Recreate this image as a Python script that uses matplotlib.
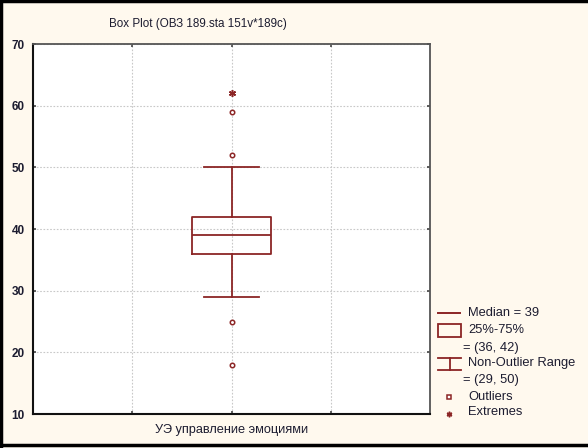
import matplotlib
matplotlib.use("Agg")
import matplotlib.pyplot as plt
from matplotlib.lines import Line2D
from matplotlib.patches import Rectangle

plt.rcParams['font.family'] = ['Liberation Sans', 'DejaVu Sans']

# data
category = "УЭ управление эмоциями"
median = 39
q1, q3 = 36, 42
whisk_lo, whisk_hi = 29, 50
outliers = [59, 52, 25, 18]
extremes = [62]
title = "Box Plot (ОВЗ 189.sta 151v*189c)"

W, H = 588, 448
red = "#8b2525"
txt = "#1c1c30"
bg = "#fff9ee"

fig = plt.figure(figsize=(W / 100, H / 100), dpi=100, facecolor=bg)
ax = fig.add_axes([33 / W, (H - 414) / H, 397 / W, 370 / H])
ax.set_facecolor("white")

stats = [dict(med=median, q1=q1, q3=q3, whislo=whisk_lo, whishi=whisk_hi,
              fliers=[], label=category)]
ax.bxp(stats, positions=[1], widths=0.40, capwidths=0.28, showfliers=False,
       boxprops=dict(color=red, lw=1.3), medianprops=dict(color=red, lw=1.3),
       whiskerprops=dict(color=red, lw=1.3), capprops=dict(color=red, lw=1.3),
       zorder=3)
ax.plot([1] * len(outliers), outliers, ls="none", marker="o", ms=3.2,
        mfc="white", mec=red, mew=1.1, zorder=4)
ax.plot([1] * len(extremes), extremes, ls="none", marker=(6, 2, 0), ms=5,
        mec=red, mew=1.1, zorder=4)

ax.set_xlim(0, 2)
ax.set_ylim(10, 70)
ax.set_yticks(range(10, 71, 10))
ax.set_xticks([0.5, 1, 1.5])
ax.set_xticklabels(["", category, ""])
ax.grid(True, ls=(0, (1.5, 1.5)), color="#c8c8c8", lw=0.8, zorder=0)
ax.tick_params(axis="both", direction="in", length=2, width=1.2, colors="#444444",
               labelcolor=txt, top=True, right=True)
ax.tick_params(axis="y", labelsize=8.5, pad=6)
ax.tick_params(axis="x", labelsize=9.2, pad=7)
for lbl in ax.get_yticklabels():
    lbl.set_fontweight("bold")
for side in ["left", "bottom"]:
    ax.spines[side].set_color("#111111")
    ax.spines[side].set_linewidth(1.5)
for side in ["top", "right"]:
    ax.spines[side].set_color("#555555")
    ax.spines[side].set_linewidth(1.3)

fig.text(198 / W, 1 - 24 / H, title, ha="center", va="center", fontsize=8.4, color=txt)


# legend drawn in figure pixel coordinates
def fx(x):
    return x / W


def fy(y):
    return 1 - y / H


fig.add_artist(Line2D([fx(438), fx(460)], [fy(313), fy(313)], color=red, lw=1.4))
fig.add_artist(Rectangle((fx(438), fy(337)), fx(23), 13 / H, fill=False,
                         ec=red, lw=1.3))
fig.add_artist(Line2D([fx(438), fx(461)], [fy(358), fy(358)], color=red, lw=1.3))
fig.add_artist(Line2D([fx(438), fx(461)], [fy(370), fy(370)], color=red, lw=1.3))
fig.add_artist(Line2D([fx(449.5), fx(449.5)], [fy(358), fy(370)], color=red, lw=1.3))
fig.add_artist(Line2D([fx(449)], [fy(397)], ls="none", marker="s", ms=3,
                      mfc="white", mec=red, mew=1.1))
fig.add_artist(Line2D([fx(449)], [fy(414)], ls="none", marker=(6, 2, 0), ms=4,
                      mec=red, mew=1.1))

legend_rows = [
    (468, 313, f"Median = {median}"),
    (468, 330, "25%-75%"),
    (463, 348, f"= ({q1}, {q3})"),
    (468, 363, "Non-Outlier Range"),
    (463, 380, f"= ({whisk_lo}, {whisk_hi})"),
    (468, 397, "Outliers"),
    (468, 412, "Extremes"),
]
for x, y, s in legend_rows:
    fig.text(fx(x), fy(y), s, ha="left", va="center", fontsize=9.3, color=txt)

# outer frame
fig.add_artist(Line2D([fx(1.5), fx(1.5)], [fy(1), fy(446)], color="black", lw=2.5))
fig.add_artist(Line2D([fx(0), fx(W)], [fy(1.5), fy(1.5)], color="black", lw=2.5))
fig.add_artist(Line2D([fx(0), fx(W)], [fy(445), fy(445)], color="black", lw=2.5))

fig.savefig("out.png", dpi=100, facecolor=bg)
